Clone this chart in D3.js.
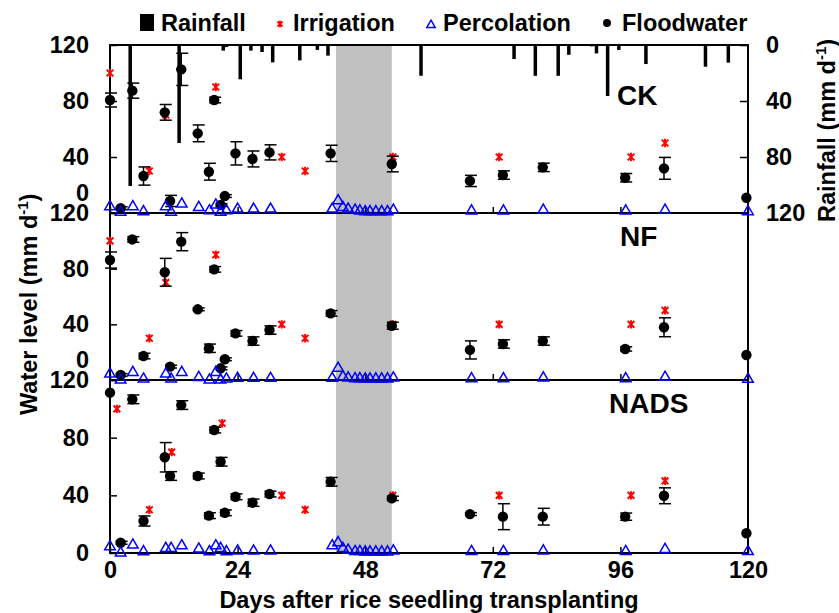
<!DOCTYPE html>
<html>
<head>
<meta charset="utf-8">
<script src="https://cdn.jsdelivr.net/npm/d3@7"></script>
<style>
  body { margin: 0; background: #fff; }
  text { font-family: "Liberation Sans", Arial, sans-serif; font-weight: bold; fill: #000; }
</style>
</head>
<body>
<svg width="839" height="613"></svg>
<script>
// rainfall (mm per day), hanging from the top of the CK panel
const rainDays = [3.8, 13, 21.3, 21.9, 24.5, 26.5, 28.6, 30.6, 35.7, 39, 41, 58.5, 76, 80, 84.3, 86.3, 90.6, 91.5, 93.6, 95.7, 100.8, 112, 116.3];
const rainMm   = [100.7, 70, 4, 1.5, 24.5, 4, 5, 12.4, 11, 3.5, 7.6, 22, 10, 22, 22, 7, 1, 6, 36.4, 3.5, 13.6, 15.5, 12.6];

// floodwater sampling days (same for all treatments)
const floodDays = [0, 2, 4.2, 6.3, 10.3, 11.3, 13.4, 16.5, 18.6, 19.6, 20.8, 21.6, 23.6, 26.8, 30, 41.5, 53, 67.7, 73.9, 81.4, 96.9, 104.2, 119.7];
const ckFlood   = [80.7, 3.4, 87.4, 26.4, 71.9, 8.6, 102.6, 56.9, 29.5, 80.7, 5.7, 12.1, 42.6, 38.6, 43.3, 42.6, 35, 22.9, 27.1, 32.6, 25.2, 31.9, 10.9];
const ckErr     = [5, 1, 5.4, 6.5, 5.6, 4, 11.5, 6, 6, 2, 1, 1, 8.3, 5.7, 5.4, 5.8, 5.6, 4, 3, 3, 3, 7.8, 0];
const nfFlood   = [86.2, 3.6, 101, 17.2, 77.4, 9.6, 99.4, 50.8, 22.8, 79.5, 8.4, 14.9, 33.5, 28, 35.9, 47.9, 39, 21.6, 25.9, 28, 22.3, 37.9, 18];
const nfErr     = [5.8, 1, 2, 2, 10, 1, 6.5, 1, 3, 2, 1, 1, 2, 3, 3, 2, 2.5, 6.5, 3, 3, 1.5, 6.8, 0];
const nadsFlood = [111.2, 7.1, 106.6, 22.2, 66.4, 53.4, 102.6, 53.4, 25.9, 85.3, 63.3, 27.9, 39, 34.9, 40.9, 49.4, 37.9, 27, 25.2, 25.2, 25.2, 39.7, 13.7];
const nadsErr   = [0, 1, 3, 3.5, 10.2, 3, 3, 2, 2, 2, 3, 2, 2, 2.5, 2, 3, 1.5, 1, 9, 5.8, 2.5, 5.5, 0];

// irrigation events
const irrDays     = [0, 7.4, 10.5, 19.9, 32.3, 36.7, 53.2, 73.2, 98, 104.4];
const irrDaysNads = [1.3, 7.4, 11.6, 21.1, 32.3, 36.7, 53.2, 73.2, 98, 104.4];
const irrAmount   = [100, 30, 70, 90, 40, 30, 40, 40, 40, 50];

// percolation
const percDays = [0, 2, 4.3, 6.3, 10.5, 11.5, 13.5, 16.7, 18.7, 19.9, 20.8, 21.9, 24, 27, 30.2, 41.8, 42.9, 43.8, 44.8, 46.1, 47, 48, 48.9, 50, 51.1, 52.2, 53.3, 68, 74, 81.5, 97, 104.4, 120];
const ckPerc   = [4.5, 0.5, 4.5, 1, 4.5, 0.5, 6.4, 4, 1.6, 5.7, 0.5, 1.6, 2.8, 2.8, 2.8, 2.8, 8.7, 4, 2.8, 2, 1.5, 1, 1, 1, 1, 1, 2, 1.5, 1.5, 2, 1.5, 2, 1];
const nfPerc   = [4.3, 0, 5.5, 0.7, 4.3, 0.7, 5.5, 1.9, 0, 5.5, 0, 0.7, 1.2, 1.2, 1.2, 1.2, 8.4, 2.4, 1.5, 1, 1, 0.8, 0.8, 0.8, 0.8, 0.8, 1.5, 1, 1, 1.5, 1, 2, 0.5];
const nadsPerc = [4.4, 0, 5.5, 0.9, 3.2, 3.2, 5, 2.8, 0.9, 5, 3.2, 0.9, 1.4, 1.4, 1.4, 5, 7.2, 3.2, 2, 1, 1, 0.8, 0.8, 0.8, 0.8, 0.8, 1.5, 1, 1, 1.5, 1, 2.5, 1];

const yTicks = [0, 40, 80, 120];
const xTicks = [0, 24, 48, 72, 96, 120];
const drainage = [42.5, 53];   // shaded period

const svg = d3.select("svg");
const mLeft = 110, mRight = 748, mTop = 45, mBottom = 553;
const fs = 23.5;

const x = d3.scaleLinear().domain([0, 120]).range([mLeft, mRight]);
const rain = d3.scaleLinear().domain([0, 120]).range([mTop, 213]);

const panels = [
  { name: "CK",   y0: 213, y1: 45,  flood: ckFlood,   err: ckErr,   perc: ckPerc,   irr: irrDays,     lx: 617, ly: 105 },
  { name: "NF",   y0: 380, y1: 213, flood: nfFlood,   err: nfErr,   perc: nfPerc,   irr: irrDays,     lx: 620, ly: 246 },
  { name: "NADS", y0: 553, y1: 380, flood: nadsFlood, err: nadsErr, perc: nadsPerc, irr: irrDaysNads, lx: 609, ly: 413 }
];

// red "ж"-like marker: vertical stroke crossed by an x
const starMark = {
  draw(ctx, size) {
    const r = Math.sqrt(size) / 2, q = r * 0.8;
    ctx.moveTo(0, -r); ctx.lineTo(0, r);
    ctx.moveTo(-q, -q); ctx.lineTo(q, q);
    ctx.moveTo(-q, q); ctx.lineTo(q, -q);
  }
};

// shaded band
svg.append("rect")
  .attr("x", x(drainage[0])).attr("y", mTop)
  .attr("width", x(drainage[1]) - x(drainage[0]))
  .attr("height", mBottom - mTop)
  .attr("fill", "#c0c0c0");

// rainfall bars
svg.append("g").selectAll("rect")
  .data(rainDays.map((d, i) => [d, rainMm[i]]))
  .enter().append("rect")
    .attr("x", d => x(d[0]) - 1.75)
    .attr("y", mTop)
    .attr("width", 3.5)
    .attr("height", d => rain(d[1]) - mTop)
    .attr("fill", "#000");

// frame
svg.append("rect")
  .attr("x", mLeft).attr("y", mTop)
  .attr("width", mRight - mLeft).attr("height", mBottom - mTop)
  .attr("fill", "none").attr("stroke", "#000").attr("stroke-width", 2);

panels.forEach((p, k) => {
  const y = d3.scaleLinear().domain([0, 120]).range([p.y0, p.y1]);
  p.y = y;

  // separator line
  svg.append("line")
    .attr("x1", mLeft).attr("x2", mRight)
    .attr("y1", p.y0).attr("y2", p.y0)
    .attr("stroke", "#000").attr("stroke-width", 2);

  const ay = svg.append("g")
    .attr("transform", `translate(${mLeft},0)`)
    .call(d3.axisLeft(y).tickValues(yTicks).tickSize(-7).tickPadding(21));
  ay.select(".domain").remove();
  ay.selectAll("line").attr("stroke-width", 1.5);
  ay.selectAll("text").attr("font-size", fs).attr("font-family", null);
  if (k < 2) {
    // zero label lifted above the next panel's 120
    ay.selectAll(".tick").filter(d => d === 0).select("text").attr("y", -20);
  }

  const ax = svg.append("g")
    .attr("transform", `translate(0,${p.y0})`)
    .call(d3.axisBottom(x).tickValues(xTicks).tickSize(-6).tickPadding(8)
      .tickFormat(k === 2 ? d3.format("d") : () => ""));
  ax.select(".domain").remove();
  ax.selectAll("line").attr("stroke-width", 1.5);
  ax.selectAll("text").attr("font-size", fs).attr("font-family", null);
});

// right rainfall axis
const ar = svg.append("g")
  .attr("transform", `translate(${mRight},0)`)
  .call(d3.axisRight(rain).tickValues(yTicks).tickSize(-8).tickPadding(18));
ar.select(".domain").remove();
ar.selectAll("line").attr("stroke-width", 1.5);
ar.selectAll("text").attr("font-size", fs).attr("font-family", null);

const star = d3.symbol().type(starMark).size(70);
const tri = d3.symbol().type(d3.symbolTriangle).size(48);

panels.forEach(p => {
  const y = p.y;
  const g = svg.append("g");

  // irrigation
  g.selectAll(".irr")
    .data(p.irr.map((d, i) => [d, irrAmount[i]]))
    .enter().append("path")
      .attr("transform", d => `translate(${x(d[0])},${y(d[1])})`)
      .attr("d", star)
      .attr("fill", "none").attr("stroke", "#ff0000").attr("stroke-width", 2);

  const fl = floodDays.map((d, i) => ({ d, v: p.flood[i], e: p.err[i] }));

  // error bars
  const eb = g.selectAll(".eb").data(fl.filter(o => o.e > 0)).enter().append("g")
    .attr("stroke", "#000").attr("stroke-width", 1.5);
  eb.append("line")
    .attr("x1", o => x(o.d)).attr("x2", o => x(o.d))
    .attr("y1", o => y(o.v - o.e)).attr("y2", o => y(o.v + o.e));
  eb.append("line")
    .attr("x1", o => x(o.d) - 5).attr("x2", o => x(o.d) + 7)
    .attr("y1", o => y(o.v - o.e)).attr("y2", o => y(o.v - o.e));
  eb.append("line")
    .attr("x1", o => x(o.d) - 5).attr("x2", o => x(o.d) + 7)
    .attr("y1", o => y(o.v + o.e)).attr("y2", o => y(o.v + o.e));

  // floodwater
  g.selectAll(".fw").data(fl).enter().append("circle")
    .attr("cx", o => x(o.d)).attr("cy", o => y(o.v))
    .attr("r", 5.2).attr("fill", "#000");

  // percolation
  g.selectAll(".pc")
    .data(percDays.map((d, i) => [d, p.perc[i]]))
    .enter().append("path")
      .attr("transform", d => `translate(${x(d[0])},${y(d[1])})`)
      .attr("d", tri)
      .attr("fill", "none").attr("stroke", "#0000ff").attr("stroke-width", 1.5);

  svg.append("text")
    .attr("x", p.lx).attr("y", p.ly)
    .attr("font-size", 28)
    .text(p.name);
});

// axis titles
const yt = svg.append("text")
  .attr("transform", "translate(37,415) rotate(-90)")
  .attr("font-size", fs);
yt.append("tspan").text("Water level (mm d");
yt.append("tspan").attr("dy", -9).attr("font-size", 15).text("-1");
yt.append("tspan").attr("dy", 9).text(")");

const rt = svg.append("text")
  .attr("transform", "translate(835,222) rotate(-90)")
  .attr("font-size", fs);
rt.append("tspan").text("Rainfall (mm d");
rt.append("tspan").attr("dy", -9).attr("font-size", 15).text("-1");
rt.append("tspan").attr("dy", 9).text(")");

svg.append("text")
  .attr("x", (mLeft + mRight) / 2).attr("y", 608)
  .attr("text-anchor", "middle")
  .attr("font-size", fs)
  .text("Days after rice seedling transplanting");

// legend
const lg = svg.append("g");
lg.append("rect").attr("x", 140).attr("y", 14).attr("width", 14).attr("height", 17).attr("fill", "#000");
lg.append("text").attr("x", 161).attr("y", 31).attr("font-size", fs).text("Rainfall");
lg.append("path").attr("transform", "translate(280,24)").attr("d", d3.symbol().type(starMark).size(40))
  .attr("fill", "none").attr("stroke", "#ff0000").attr("stroke-width", 2);
lg.append("text").attr("x", 293).attr("y", 31).attr("font-size", fs).text("Irrigation");
lg.append("path").attr("transform", "translate(431,25)").attr("d", d3.symbol().type(d3.symbolTriangle).size(30))
  .attr("fill", "none").attr("stroke", "#0000ff").attr("stroke-width", 1.5);
lg.append("text").attr("x", 443).attr("y", 31).attr("font-size", fs).text("Percolation");
lg.append("circle").attr("cx", 607).attr("cy", 23).attr("r", 4).attr("fill", "#000");
lg.append("text").attr("x", 622).attr("y", 31).attr("font-size", fs).text("Floodwater");
</script>
</body>
</html>
